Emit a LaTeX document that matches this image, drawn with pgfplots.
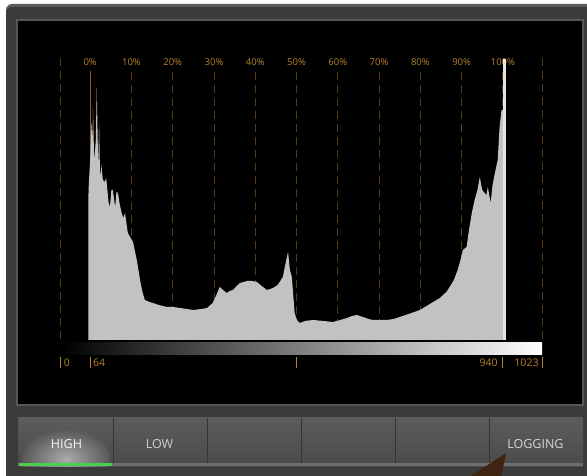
\documentclass[border=0pt]{standalone}
\usepackage{fontspec}
\setmainfont{Open Sans}
\usepackage{pgfplots}
\pgfplotsset{compat=1.18}
\usetikzlibrary{shadings}
\definecolor{framegray}{HTML}{3B3B3B}
\definecolor{frametop}{HTML}{5E5E5E}
\definecolor{panelborder}{HTML}{575757}
\definecolor{btntop}{HTML}{5C5C5C}
\definecolor{btnbot}{HTML}{4A4A4A}
\definecolor{btnsep}{HTML}{353535}
\definecolor{ulgray}{HTML}{6E6E6E}
\definecolor{ulgreen}{HTML}{4CD04C}
\definecolor{glow}{HTML}{ABABAB}
\definecolor{orangelabel}{HTML}{B8822A}
\definecolor{gridbrown}{HTML}{5A3A12}
\definecolor{zerobrown}{HTML}{8A5A28}
\definecolor{histgray}{HTML}{C2C2C2}
\definecolor{spikewhite}{HTML}{E6E6E6}
\definecolor{arrowbrown}{HTML}{3E2411}

\pgfplotstableread{
code value
58 0
60 0
60.5 150
64 180
67 218
69 200
70 233
72 190
73 180
76 200
78 252
80 200
81 170
83 218
85 163
88 175
91 160
95 158
98 162
100 153
103 138
106 133
109 150
112 150
115 140
117 133
120 148
123 147
127 135
131 127
134 122
138 127
144 107
150 102
155 98
163 80
170 60
175 48
180 40
190 38
197 37
210 35
227 33
240 33
255 32
270 31
282 30
300 31
312 32
324 37
332 45
339 53
346 50
354 47
360 49
367 50
375 54
382 57
397 59
408 59
418 58
428 54
439 50
446 51
452 52
462 55
473 63
478 75
484 88
488 70
492 63
495 45
498 27
503 20
509 17
520 19
537 20
560 19
579 18
595 20
609 22
620 24
630 25
643 23
655 21
664 20
680 20
694 20
708 21
721 23
740 26
764 30
785 36
806 42
820 48
827 53
836 60
844 70
850 80
855 90
863 93
868 110
874 127
880 140
886 150
891 163
896 150
901 147
905 145
908 153
911 145
914 137
918 155
923 167
929 180
933 213
937 230
940 230
940 0
}\histdata

\pgfplotstableread{
code value
940 0
940 281
947 281
947 0
}\spikedata

\begin{document}
\begin{tikzpicture}[x=1pt,y=1pt]
\fill[white] (0,0) rectangle (587,476);
% outer frame
\fill[frametop, rounded corners=6pt] (6,-10) rectangle (600,472);
\fill[framegray, rounded corners=5pt] (6,-10) rectangle (600,469);
% black panel
\fill[black] (17,71) rectangle (583,456);
\draw[panelborder, line width=1.2pt] (17,71) rectangle (583,456);
% buttons
\shade[top color=btntop, bottom color=btnbot] (18,9) rectangle (583,58);
\begin{scope}
\clip (19,9) rectangle (113,58);
\shade[inner color=glow, outer color=btntop!95!black] (66,17) ellipse (44pt and 30pt);
\end{scope}
\foreach \xs in {113,207,301,395,489}{
  \draw[btnsep, line width=1pt] (\xs,9) -- (\xs,58);
}
\fill[ulgray] (18,10) rectangle (583,13);
\fill[ulgreen] (19,10) rectangle (112,13);
\node[text=white!92!gray, font=\fontsize{12.5}{14}\selectfont] at (66.5,32) {HIGH};
\node[text=white!62!gray, font=\fontsize{12.5}{14}\selectfont] at (159.5,32) {LOW};
\node[text=white!68!gray, font=\fontsize{12.5}{14}\selectfont] at (535.5,32) {LOGGING};
% arrow
\fill[arrowbrown] (468,-2) -- (501,-2) -- (506,23) -- cycle;

\begin{axis}[
  at={(60pt,136pt)}, anchor=south west,
  width=482pt, height=280pt, scale only axis,
  xmin=0, xmax=1023, ymin=0, ymax=280,
  clip=false,
  axis line style={draw=none},
  tick style={draw=none}, major tick length=0pt,
  xtick={64,151.6,239.2,326.8,414.4,502,589.6,677.2,764.8,852.4,940},
  xticklabels={0\%,10\%,20\%,30\%,40\%,50\%,60\%,70\%,80\%,90\%,100\%},
  xticklabel pos=upper,
  xticklabel style={font=\fontsize{9.5}{10}\selectfont, text=orangelabel, inner sep=0pt, anchor=center, yshift=-2pt},
  ytick=\empty,
]
% grid lines (dashed)
\pgfplotsinvokeforeach{151.6,239.2,326.8,414.4,502,589.6,677.2,764.8,852.4,940}{
  \draw[gridbrown, dash pattern=on 8pt off 5pt, line width=0.8pt] (axis cs:#1,268) -- (axis cs:#1,0);
}
\pgfplotsinvokeforeach{0,1023}{
  \draw[gridbrown, dash pattern=on 8pt off 5pt, line width=0.8pt] (axis cs:#1,282) -- (axis cs:#1,0);
}
\draw[zerobrown, line width=0.9pt] (axis cs:64,0) -- (axis cs:64,269);
\addplot[fill=histgray, draw=none] table[x=code, y=value] {\histdata} \closedcycle;
\addplot[fill=spikewhite, draw=none] table[x=code, y=value] {\spikedata};
% gradient scale
\shade[left color=black, right color=white] (axis cs:2,-3) rectangle (axis cs:1023,-15);
% bottom ticks and labels
\pgfplotsinvokeforeach{0,64,502,940,1023}{
  \draw[orangelabel, line width=0.9pt] (axis cs:#1,-17) -- (axis cs:#1,-28);
}
\node[anchor=west, text=orangelabel, font=\fontsize{10.5}{11}\selectfont, inner sep=0pt] at (axis cs:8,-22.5) {0};
\node[anchor=west, text=orangelabel, font=\fontsize{10.5}{11}\selectfont, inner sep=0pt] at (axis cs:70,-22.5) {64};
\node[anchor=east, text=orangelabel, font=\fontsize{10.5}{11}\selectfont, inner sep=0pt] at (axis cs:929,-22.5) {940};
\node[anchor=east, text=orangelabel, font=\fontsize{10.5}{11}\selectfont, inner sep=0pt] at (axis cs:1016,-22.5) {1023};
\end{axis}
\pgfresetboundingbox
\useasboundingbox (0,0) rectangle (587,476);
\end{tikzpicture}
\end{document}
